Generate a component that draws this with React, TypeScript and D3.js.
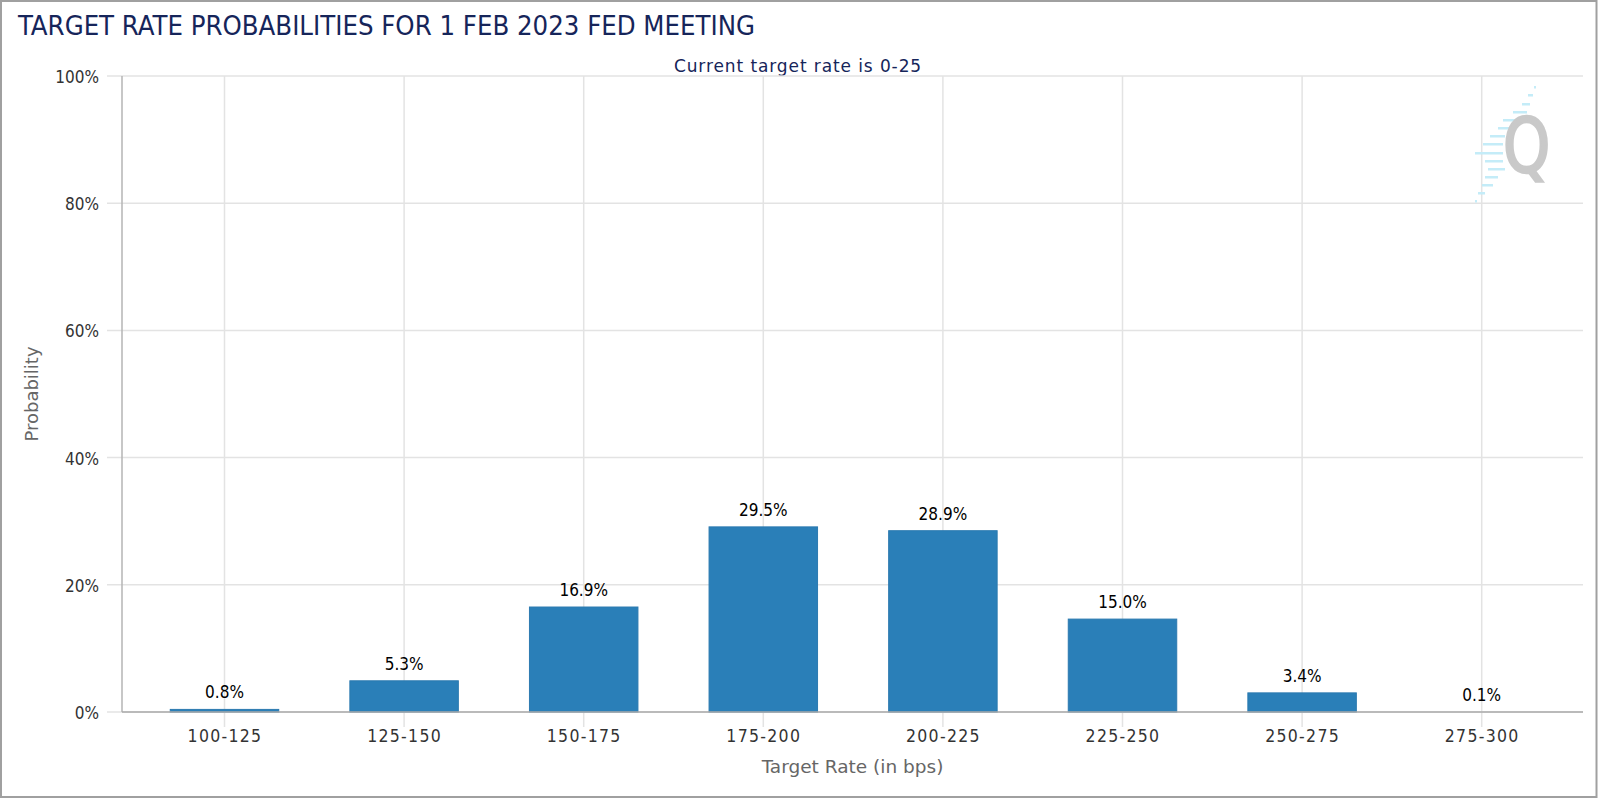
import React from "react";
import * as d3 from "d3";

const categories = ["100-125", "125-150", "150-175", "175-200", "200-225", "225-250", "250-275", "275-300"];
const probabilities = [0.8, 5.3, 16.9, 29.5, 28.9, 15.0, 3.4, 0.1];
const yTicks = [0, 20, 40, 60, 80, 100];
const titleText = "TARGET RATE PROBABILITIES FOR 1 FEB 2023 FED MEETING";
const subtitleText = "Current target rate is 0-25";
const xTitle = "Target Rate (in bps)";
const yTitle = "Probability";
// logo stripes: [offsetY, x1, x2] in logo-local units
const logoStripes = [
  [0, 74, 76], [8, 68, 73], [17, 62, 70], [25, 53, 67], [33, 43, 58], [41, 38, 50],
  [49, 30, 45], [57, 23, 43], [66, 15, 43], [74, 25, 43], [82, 28, 45], [90, 25, 38],
  [98, 22, 33], [106, 18, 25], [114, 15, 17],
];

const W = 1600;
const H = 800;
const FONT = "'DejaVu Sans Condensed', 'DejaVu Sans', sans-serif";
const FONT_WIDE = "'DejaVu Sans', sans-serif";

export default function App() {
  const left = 122, right = 1583, top = 76, bottom = 712;
  const y = d3.scaleLinear().domain([0, 100]).range([bottom, top]);
  const x = d3.scalePoint<string>().domain(categories).range([224.5, 1481.7]);
  const step = x.step();
  const barW = step * 0.604;
  const inset = 2.5;

  return (
    <svg width={W} height={H} style={{ position: "absolute", left: 0, top: 0, background: "#fff" }} fontFamily={FONT}>
      <rect x={1} y={1} width={1595.5} height={796} fill="#fff" stroke="#a0a0a0" strokeWidth={2} />
      <text x={18} y={35} fontSize={27} fill="#16255a" textLength={737} lengthAdjust="spacingAndGlyphs">{titleText}</text>
      <text x={798} y={72} fontSize={17} fill="#16255a" textAnchor="middle" fontFamily={FONT_WIDE} letterSpacing={0.9}>{subtitleText}</text>

      {/* horizontal grid */}
      {yTicks.map((t) => (
        <g key={"y" + t}>
          <line x1={left - 15} x2={right} y1={y(t)} y2={y(t)} stroke="#e3e3e3" strokeWidth={1.5} />
          <text x={99} y={y(t) + 7} fontSize={17} fill="#333" textAnchor="end">{t + "%"}</text>
        </g>
      ))}
      {/* vertical grid */}
      {categories.map((c) => (
        <g key={"x" + c}>
          <line x1={x(c)} x2={x(c)} y1={top} y2={bottom + 15} stroke="#e3e3e3" strokeWidth={1.5} />
          <text x={(x(c) as number) + 0.5} y={742} fontSize={17.5} fill="#333" textAnchor="middle" letterSpacing={1.3}>{c}</text>
        </g>
      ))}

      {/* logo */}
      <g>
        {logoStripes.map((s, i) => (
          <rect key={"ls" + i} x={1460 + s[1]} y={86 + s[0]} width={s[2] - s[1]} height={2.5} fill="#c4ecf8" />
        ))}
        <text x={1503} y={172} fontSize={75} fill="#c9c9c9" stroke="#c9c9c9" strokeWidth={2.5} transform="translate(1503,0) scale(0.8,1) translate(-1503,0)" fontFamily={FONT_WIDE}>Q</text>
      </g>

      {/* axes lines */}
      <line x1={left} x2={left} y1={top} y2={bottom} stroke="#b5b5b5" strokeWidth={1.5} />

      {/* bars */}
      {categories.map((c, i) => {
        const v = probabilities[i];
        const yt = Math.min(bottom, y(v) + inset);
        const cx = x(c) as number;
        return (
          <g key={"b" + c}>
            {bottom - yt > 0.5 && (
              <rect x={cx - barW / 2} y={yt} width={barW} height={bottom - yt} fill="#2a7fb8" stroke="#2c7ab0" strokeWidth={1} />
            )}
            <text x={cx} y={yt - 11} fontSize={17} fill="#000" textAnchor="middle">{v.toFixed(1) + "%"}</text>
          </g>
        );
      })}
      <line x1={left} x2={right} y1={bottom} y2={bottom} stroke="#aaaaaa" strokeWidth={1.5} />

      <text x={852.5} y={773} fontSize={18.5} fill="#666" textAnchor="middle" fontFamily={FONT_WIDE}>{xTitle}</text>
      <text transform={`translate(38,394) rotate(-90)`} fontSize={18} fill="#666" textAnchor="middle" fontFamily={FONT_WIDE}>{yTitle}</text>
    </svg>
  );
}
